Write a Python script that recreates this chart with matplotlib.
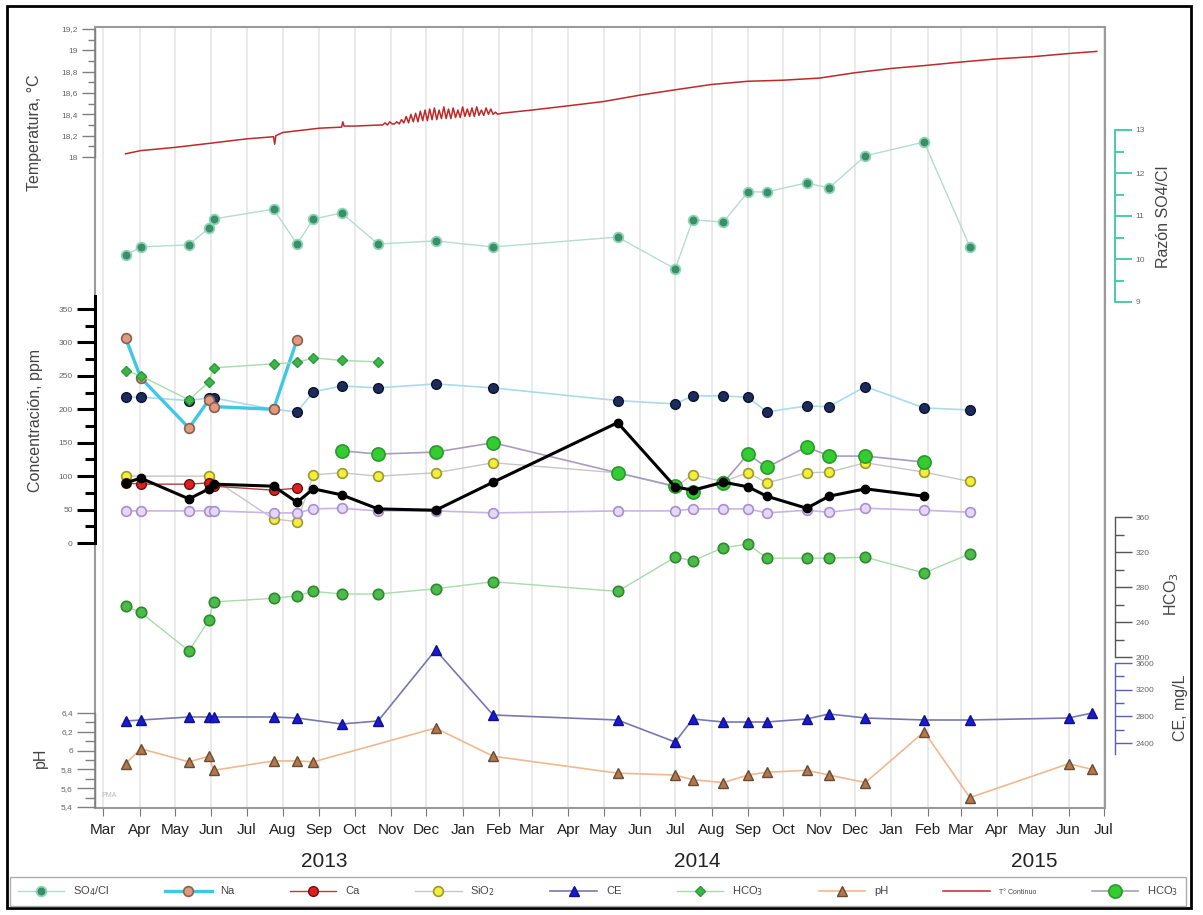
import numpy as np
import pandas as pd
import matplotlib
matplotlib.use('Agg')
import matplotlib.pyplot as plt
import matplotlib.dates as mdates
from matplotlib.patches import Rectangle

plt.rcParams['font.family'] = ['Liberation Sans', 'DejaVu Sans']

W, H = 1203, 915
LEFT, RIGHT, TOP, BOTTOM = 95, 1105, 27, 808
N = None

# campañas de muestreo
fechas = pd.to_datetime([
    '2013-03-20', '2013-04-02', '2013-05-13', '2013-05-30', '2013-06-03',
    '2013-07-24', '2013-08-13', '2013-08-27', '2013-09-20', '2013-10-21',
    '2013-12-09', '2014-01-27', '2014-05-13', '2014-07-01', '2014-07-16',
    '2014-08-11', '2014-09-01', '2014-09-17', '2014-10-21', '2014-11-09',
    '2014-12-10', '2015-01-29', '2015-03-09', '2015-06-01', '2015-06-21'])

so4_cl = [10.09, 10.28, 10.33, 10.72, 10.93, 11.16, 10.35, 10.93, 11.07, 10.35,
          10.42, 10.28, 10.51, 9.77, 10.91, 10.86, 11.56, 11.56, 11.77, 11.65,
          12.40, 12.72, 10.28, N, N]
na = [307, 247, 172, 214, 204, 200, 304] + [N] * 18
ca = [90, 88, 88, 90, 85, 79, 82] + [N] * 18
sio2 = [100, N, N, 100, N, 36, 32, 102, 105, 100, 105, 120, 105, 84, 102,
        92, 105, 90, 105, 106, 120, 106, 92, N, N]
mg = [48, 48, 48, 48, 48, 45, 45, 51, 52, 48, 48, 45, 48, 48, 51,
      51, 51, 45, 49, 46, 52, 49, 46, N, N]
so4 = [218, 218, 213, 217, 217, 200, 196, 226, 235, 232, 238, 232, 213, 208, 220,
       220, 218, 196, 205, 204, 234, 202, 199, N, N]
cl = [90, 97, 66, 81, 88, 85, 61, 81, 72, 51, 49, 91, 180, 84, 79,
      91, 84, 70, 52, 70, 81, 70, N, N, N]
hco3_ppm = [258, 250, 214, 241, 262, 268, 270, 277, 273, 271] + [N] * 15
hco3_b = [N] * 8 + [138, 133, 136, 150, 105, 85, 77, 90, 133, 113, 144, 130, 130, 121, N, N, N]
hco3 = [258, 251, 207, 242, 263, 267, 270, 275, 272, 272, 278, 286, 275, 314, 310,
        325, 329, 313, 313, 313, 314, 296, 318, N, N]
ce = [2730, 2745, 2790, 2790, 2790, 2790, 2775, N, 2685, 2730, 3795, 2820, 2745, 2415, 2760,
      2715, 2715, 2715, 2760, 2835, 2775, 2745, 2745, 2775, 2850]
ph = [5.86, 6.02, 5.88, 5.94, 5.79, 5.89, 5.89, 5.88, N, N, 6.24, 5.94, 5.76, 5.74, 5.69,
      5.66, 5.74, 5.77, 5.79, 5.74, 5.66, 6.20, 5.50, 5.86, 5.80]

# registro continuo de temperatura
t_ini_fechas = ['2013-03-20', '2013-04-02', '2013-05-01', '2013-06-01', '2013-07-01',
                '2013-07-24', '2013-07-25', '2013-07-26', '2013-08-01', '2013-09-01',
                '2013-09-20', '2013-09-21', '2013-09-22', '2013-10-01', '2013-10-23']
t_ini = [18.03, 18.06, 18.09, 18.13, 18.17, 18.19, 18.12, 18.20, 18.23, 18.27,
         18.28, 18.33, 18.29, 18.29, 18.30]
t_ruido = [18.30, 18.32, 18.30, 18.33, 18.31,
           18.31, 18.33, 18.31, 18.35, 18.32, 18.38, 18.32, 18.40, 18.33, 18.41,
           18.33, 18.43, 18.34, 18.44, 18.34, 18.45, 18.35, 18.46, 18.35, 18.44,
           18.36, 18.47, 18.36, 18.45, 18.36, 18.46, 18.37, 18.44, 18.37, 18.47,
           18.38, 18.45, 18.38, 18.46, 18.38, 18.47, 18.39, 18.44, 18.39, 18.46,
           18.40, 18.45, 18.40, 18.42, 18.40]
t_fin_fechas = ['2014-02-03', '2014-03-01', '2014-04-01', '2014-05-01', '2014-06-01',
                '2014-07-01', '2014-08-01', '2014-09-01', '2014-10-01', '2014-11-01',
                '2014-12-01', '2015-01-01', '2015-02-01', '2015-03-01', '2015-04-01',
                '2015-05-01', '2015-06-01', '2015-06-25']
t_fin = [18.41, 18.44, 18.48, 18.52, 18.58, 18.63, 18.68, 18.71, 18.72, 18.74,
         18.79, 18.83, 18.86, 18.89, 18.92, 18.94, 18.97, 18.99]

t_fechas = (list(pd.to_datetime(t_ini_fechas))
            + list(pd.date_range('2013-10-25', periods=len(t_ruido), freq='2D'))
            + list(pd.to_datetime(t_fin_fechas)))
t_vals = t_ini + t_ruido + t_fin

fig = plt.figure(figsize=(W / 100, H / 100), dpi=100)
rect = [LEFT / W, 1 - BOTTOM / H, (RIGHT - LEFT) / W, (BOTTOM - TOP) / H]

ax = fig.add_axes(rect)
ax.set_xlim(pd.Timestamp('2013-02-22'), pd.Timestamp('2015-07-02'))
ax.set_ylim(0, 1)
ax.set_yticks([])
ax.xaxis.set_major_locator(mdates.MonthLocator())
ax.xaxis.set_major_formatter(mdates.DateFormatter('%b'))
ax.tick_params(axis='x', length=6, color='#777', labelsize=11, labelcolor='#222', pad=5)
ax.grid(axis='x', color='#e8e8e8', lw=1.3)
for s in ax.spines.values():
    s.set_color('#9a9a9a')
    s.set_linewidth(1.5)
for anio, f in [('2013', '2013-09-05'), ('2014', '2014-07-20'), ('2015', '2015-05-03')]:
    ax.text(pd.Timestamp(f), -0.068, anio, transform=ax.get_xaxis_transform(),
            ha='center', va='center', fontsize=15, color='#222')
ax.text(0.006, 0.014, 'PMA', transform=ax.transAxes, fontsize=5, color='#bbb')


def escala(a, v1, p1, v2, p2):
    k = (v2 - v1) / (p1 - p2)
    a.set_ylim(v1 - (BOTTOM - p1) * k, v1 + (p1 - TOP) * k)


def capa(lado, color, limites, mayores, etiquetas, menores, largo, ancho=1.0, fuera=0):
    a = fig.add_axes(rect, sharex=ax)
    a.patch.set_visible(False)
    for s in a.spines.values():
        s.set_visible(False)
    a.tick_params(axis='x', which='both', bottom=False, top=False, labelbottom=False)
    sp = a.spines[lado]
    sp.set_visible(True)
    sp.set_bounds(*limites)
    sp.set_color(color)
    sp.set_linewidth(ancho)
    if fuera:
        sp.set_position(('outward', fuera))
    if lado == 'right':
        a.yaxis.tick_right()
    else:
        a.yaxis.tick_left()
    a.set_yticks(mayores)
    a.set_yticklabels(etiquetas)
    a.set_yticks(menores, minor=True)
    a.tick_params(axis='y', which='major', length=largo, width=ancho, color=color,
                  labelsize=6, labelcolor='#666', pad=3)
    a.tick_params(axis='y', which='minor', length=largo * 0.55, width=ancho, color=color)
    return a


def serie(a, valores, **kw):
    x = [f for f, v in zip(fechas, valores) if v is not None]
    y = [v for v in valores if v is not None]
    return a.plot(x, y, **kw)[0]


# temperatura
a_t = capa('left', '#808080', (18, 19.2), [18, 18.2, 18.4, 18.6, 18.8, 19, 19.2],
           ['18', '18,2', '18,4', '18,6', '18,8', '19', '19,2'],
           [18.1, 18.3, 18.5, 18.7, 18.9, 19.1], 9.4)
escala(a_t, 18, 157, 19.2, 29)
l_t, = a_t.plot(t_fechas, t_vals, color='#c0282a', lw=1.1, label='T° Continuo')

# razón SO4/Cl
a_r = capa('right', '#3cc8a0', (9, 13), [9, 10, 11, 12, 13], ['9', '10', '11', '12', '13'],
           [9.5, 10.5, 11.5, 12.5], 12, ancho=1.3, fuera=7.2)
escala(a_r, 9, 302, 13, 130)
l_r = serie(a_r, so4_cl, color='#b4dcd2', lw=1, marker='o', ms=7,
            mfc='#3a8f6a', mec='#8fd6b8', mew=1.3, label='SO$_4$/Cl')

# concentraciones
a_c = capa('left', 'black', (0, 370), list(range(0, 351, 50)),
           [str(v) for v in range(0, 351, 50)], list(range(25, 351, 50)), 13, ancho=2.2)
escala(a_c, 0, 543, 350, 309)
l_si = serie(a_c, sio2, color='#c6c6c6', lw=1, marker='o', ms=7,
             mfc='#f2ee3a', mec='#9a9a30', mew=1.2, label='SiO$_2$')
serie(a_c, mg, color='#c8b4e6', lw=1.2, marker='o', ms=7,
      mfc='#e4d8f6', mec='#a890d0', mew=1.2)
serie(a_c, so4, color='#a8dcea', lw=1.2, marker='o', ms=7,
      mfc='#1c2b5c', mec='#0c1430', mew=1)
l_na = serie(a_c, na, color='#3ec8e6', lw=2.4, marker='o', ms=7,
             mfc='#e09a80', mec='#8a6050', mew=1.2, label='Na')
l_hd = serie(a_c, hco3_ppm, color='#a8dca8', lw=1, marker='D', ms=5,
             mfc='#3db54a', mec='#2a9a3a', mew=1, label='HCO$_3$')
l_ca = serie(a_c, ca, color='#b04040', lw=1, marker='o', ms=7,
             mfc='#dd1f1f', mec='#6a1010', mew=1, label='Ca')
l_hb = serie(a_c, hco3_b, color='#a89cc0', lw=1.2, marker='o', ms=9.5,
             mfc='#33cc33', mec='#2a9a2a', mew=1.2, label='HCO$_3$')
serie(a_c, cl, color='black', lw=2.2, marker='o', ms=6, mfc='black', mec='black')

# HCO3 en su propio eje
a_h = capa('right', '#555555', (200, 360), [200, 240, 280, 320, 360],
           ['200', '240', '280', '320', '360'], [220, 260, 300, 340], 12, fuera=7.2)
escala(a_h, 200, 657, 360, 517)
serie(a_h, hco3, color='#a8dca8', lw=1, marker='o', ms=7.5,
      mfc='#4cbb4c', mec='#2d8a2d', mew=1.2)

# conductividad eléctrica
a_e = capa('right', '#5a5ac0', (2230, 3600), [2400, 2800, 3200, 3600],
           ['2400', '2800', '3200', '3600'], [2600, 3000, 3400], 12, fuera=7.2)
escala(a_e, 2400, 743, 3600, 663)
l_ce = serie(a_e, ce, color='#7878b0', lw=1.2, marker='^', ms=7.5,
             mfc='#1a1ad0', mec='#10108a', mew=1, label='CE')

# pH
a_p = capa('left', '#808080', (5.4, 6.4), [5.4, 5.6, 5.8, 6.0, 6.2, 6.4],
           ['5,4', '5,6', '5,8', '6', '6,2', '6,4'], [5.5, 5.7, 5.9, 6.1, 6.3], 13)
escala(a_p, 5.4, 807, 6.4, 713)
l_ph = serie(a_p, ph, color='#f0b890', lw=1.2, marker='^', ms=7,
             mfc='#b07850', mec='#6a4a30', mew=1, label='pH')

# títulos de los ejes
rot = dict(rotation=90, ha='center', va='center', fontsize=11.5, color='#444')
fig.text(34 / W, 1 - 133 / H, 'Temperatura, °C', **rot)
fig.text(36 / W, 1 - 420 / H, 'Concentración, ppm', **rot)
fig.text(40 / W, 1 - 758 / H, 'pH', **rot)
fig.text(1164 / W, 1 - 217 / H, 'Razón SO4/Cl', **rot)
fig.text(1172 / W, 1 - 594 / H, 'HCO$_3$', **rot)
fig.text(1180 / W, 1 - 708 / H, 'CE, mg/L', **rot)

handles = [l_r, l_na, l_ca, l_si, l_ce, l_hd, l_ph, l_t, l_hb]
leg = fig.legend(handles, [h.get_label() for h in handles], loc='lower left',
                 bbox_to_anchor=(10 / W, 1 - 906 / H, 1176 / W, 34 / H), mode='expand',
                 ncol=9, handlelength=4.2, fontsize=8, borderaxespad=0, borderpad=0.7,
                 fancybox=False, edgecolor='#999', labelcolor='#444')
leg.get_texts()[7].set_fontsize(5)

fig.patches.append(Rectangle((7 / W, 1 - 908 / H), 1184 / W, 902 / H,
                             transform=fig.transFigure, fill=False, ec='black', lw=2))

fig.savefig('out.png', dpi=100)
